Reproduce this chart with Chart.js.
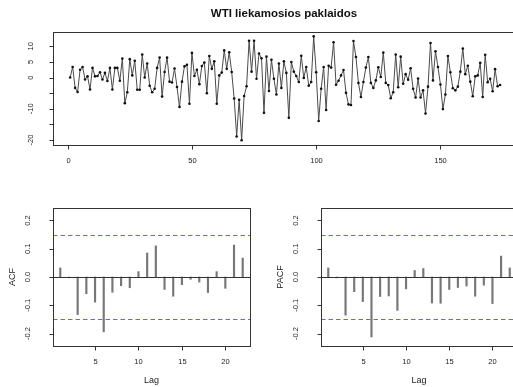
<!DOCTYPE html>
<html lang="lt">
<head>
<meta charset="UTF-8">
<title>WTI liekamosios paklaidos</title>
<script src="https://cdn.jsdelivr.net/npm/chart.js"></script>
<style>
  html, body { margin: 0; padding: 0; overflow: hidden; background: #fff; }
  canvas { position: absolute; }
</style>
</head>
<body>
<canvas id="resid" width="520" height="178" style="left:0;top:0"></canvas>
<canvas id="acf" width="260" height="197" style="left:0;top:190px"></canvas>
<canvas id="pacf" width="260" height="197" style="left:260px;top:190px"></canvas>

<script>
// residuals
const residuals = [
  0, 3.4, -3.3, -4.6, 2.5, 3.4, -0.6, 0.4, -3.8, 3.1,
  0.4, 0.5, 1.7, -0.6, 1.5, -1.1, 3.1, -3.8, 3.1, 3.1,
  -1.0, 6.1, -8.2, -4.7, 5.9, 0.7, 5.4, -3.9, -3.9, 7.4,
  0, 4.5, -2.6, -4.7, -3.6, 3.1, 6.4, -6.1, 1.8, 6.4,
  -1.3, -1.6, 2.9, -3.0, -9.4, -1.3, 3.6, 4.1, -8.4, 7.9,
  0.5, 2.5, -2.1, 3.7, 4.8, -5.0, 6.9, 2.8, 5.2, -8.4,
  0.7, 1.6, 8.7, 2.8, 8.1, 1.8, -6.7, -18.9, -7.1, -20.1,
  -5.9, -2.8, 11.8, 1.9, 11.8, -0.4, 7.7, 6.2, -11.3, 6.7,
  -4.3, 5.7, -0.4, -5.4, 4.5, -3.3, 5.2, 1.5, -12.9, 5.0,
  1.9, 0.5, -1.4, 7.0, -0.1, 3.4, -2.6, -1.4, 13.2, 1.7,
  -13.9, -3.6, 3.4, -10.4, 3.8, 3.2, 11.3, -2.3, -1.0, 0.7,
  2.4, -4.9, -8.6, -8.8, 11.7, 6.6, -1.7, -6.2, -1.4, 3.2,
  6.6, -1.7, -3.3, -0.9, 3.3, 0.2, 8.0, -1.7, -2.4, -6.6,
  -4.7, 7.4, -3.1, 6.7, -2.0, 1.1, -0.7, 3.0, -3.6, -6.4,
  -0.3, -6.4, -4.1, -11.5, -2.9, 11.1, -0.9, 8.4, 3.4, -2.2,
  -10.1, -5.4, 6.9, 1.7, -3.4, -4.1, -2.9, 1.9, 9.3, 1.1,
  3.8, -1.3, -6.0, 0.4, 0.7, 4.7, -6.2, 7.3, -1.5, -0.4,
  -4.4, 2.7, -2.8, -2.4
];
const residTicksX = [0, 50, 100, 150];
const residTicksY = [-20, -15, -10, -5, 0, 5, 10];
const residLabelsY = [-20, -10, 0, 5, 10];

const lags = [1, 2, 3, 4, 5, 6, 7, 8, 9, 10, 11, 12, 13, 14, 15, 16, 17, 18, 19, 20, 21, 22];
const acfValues = [0.032, -0.003, -0.133, -0.059, -0.089, -0.194, -0.054, -0.031, -0.038, 0.019,
  0.085, 0.110, -0.044, -0.068, -0.027, -0.008, -0.018, -0.055, 0.019, -0.040, 0.113, 0.067];
const pacfValues = [0.032, -0.003, -0.135, -0.052, -0.087, -0.212, -0.069, -0.067, -0.118, -0.042,
  0.023, 0.030, -0.092, -0.093, -0.044, -0.037, -0.032, -0.068, -0.029, -0.094, 0.074, 0.032];
const lagTicks = [5, 10, 15, 20];
const corrTicks = [-0.2, -0.1, 0.0, 0.1, 0.2];
const confLimit = 0.149;

const FONT = '"Liberation Sans", Arial, sans-serif';

// R-style box, ticks and labels drawn from the chart's scales
const rAxes = {
  id: 'rAxes',
  afterDatasetsDraw(chart, args, o) {
    const { ctx, chartArea: a, scales: { x, y } } = chart;
    ctx.save();
    if (o.hlines) {
      o.hlines.forEach(h => {
        const py = Math.round(y.getPixelForValue(h.value)) + 0.5;
        ctx.strokeStyle = h.color;
        ctx.lineWidth = 1;
        ctx.setLineDash(h.dash || []);
        ctx.beginPath(); ctx.moveTo(a.left, py); ctx.lineTo(a.right, py); ctx.stroke();
      });
      ctx.setLineDash([]);
    }
    ctx.strokeStyle = '#333';
    ctx.lineWidth = 1;
    ctx.strokeRect(Math.round(a.left) + 0.5, Math.round(a.top) + 0.5,
      Math.round(a.right - a.left), Math.round(a.bottom - a.top));

    ctx.fillStyle = '#222';
    ctx.font = '7.5px ' + FONT;
    ctx.textAlign = 'center';
    ctx.textBaseline = 'middle';
    const bottom = Math.round(a.bottom) + 0.5;
    o.xTicks.forEach(v => {
      const px = Math.round(x.getPixelForValue(v)) + 0.5;
      ctx.beginPath(); ctx.moveTo(px, bottom); ctx.lineTo(px, bottom + 4); ctx.stroke();
      ctx.fillText(String(v), px, a.bottom + 16);
    });
    const left = Math.round(a.left) + 0.5;
    o.yTicks.forEach(v => {
      const py = Math.round(y.getPixelForValue(v)) + 0.5;
      ctx.beginPath(); ctx.moveTo(left - 4, py); ctx.lineTo(left, py); ctx.stroke();
    });
    o.yLabels.forEach(v => {
      const py = y.getPixelForValue(v);
      ctx.save();
      ctx.translate(a.left - o.yLabelGap, py);
      ctx.rotate(-Math.PI / 2);
      ctx.fillText(o.fmt ? o.fmt(v) : String(v), 0, 0);
      ctx.restore();
    });

    ctx.font = '9px ' + FONT;
    if (o.xTitle) ctx.fillText(o.xTitle, (a.left + a.right) / 2, a.bottom + 35);
    if (o.yTitle) {
      ctx.save();
      ctx.translate(a.left - 40, (a.top + a.bottom) / 2);
      ctx.rotate(-Math.PI / 2);
      ctx.fillText(o.yTitle, 0, 0);
      ctx.restore();
    }
    if (o.title) {
      ctx.font = 'bold 11.5px ' + FONT;
      ctx.fillStyle = '#111';
      ctx.fillText(o.title, (a.left + a.right) / 2, 13.5);
    }
    ctx.restore();
  }
};

const common = {
  responsive: false,
  animation: false,
  events: [],
  plugins: { legend: { display: false }, tooltip: { enabled: false } }
};

new Chart(document.getElementById('resid'), {
  type: 'line',
  data: {
    datasets: [{
      data: residuals.map((v, i) => ({ x: i + 1, y: v })),
      borderColor: '#4a4a4a',
      borderWidth: 1,
      pointRadius: 1.3,
      pointBorderWidth: 0,
      pointBackgroundColor: '#111',
      tension: 0
    }]
  },
  options: {
    ...common,
    layout: { padding: { left: 53, top: 32, right: 5, bottom: 33 } },
    scales: {
      x: { type: 'linear', display: false, min: -5.9, max: 180 },
      y: { display: false, min: -21.6, max: 14.6 }
    },
    plugins: {
      ...common.plugins,
      rAxes: {
        xTicks: residTicksX, yTicks: residTicksY, yLabels: residLabelsY, yLabelGap: 22,
        title: 'WTI liekamosios paklaidos'
      }
    }
  },
  plugins: [rAxes]
});

function corrChart(id, values, label, padLeft, padRight) {
  new Chart(document.getElementById(id), {
    type: 'bar',
    data: {
      datasets: [{
        data: lags.map((l, i) => ({ x: l, y: values[i] })),
        backgroundColor: '#777',
        barThickness: 1.5,
        grouped: false
      }]
    },
    options: {
      ...common,
      layout: { padding: { left: padLeft, top: 18, right: padRight, bottom: 41 } },
      scales: {
        x: { type: 'linear', display: false, offset: false, min: 0.16, max: 22.84 },
        y: { display: false, min: -0.244, max: 0.244 }
      },
      plugins: {
        ...common.plugins,
        rAxes: {
          xTicks: lagTicks, yTicks: corrTicks, yLabels: corrTicks, yLabelGap: 25,
          fmt: v => v.toFixed(1), xTitle: 'Lag', yTitle: label,
          hlines: [
            { value: 0, color: '#333' },
            { value: confLimit, color: '#6666ff', dash: [4.5, 3] },
            { value: -confLimit, color: '#6666ff', dash: [4.5, 3] }
          ]
        }
      }
    },
    plugins: [rAxes]
  });
}

corrChart('acf', acfValues, 'ACF', 53, 10);
corrChart('pacf', pacfValues, 'PACF', 61, 3);
</script>
</body>
</html>
